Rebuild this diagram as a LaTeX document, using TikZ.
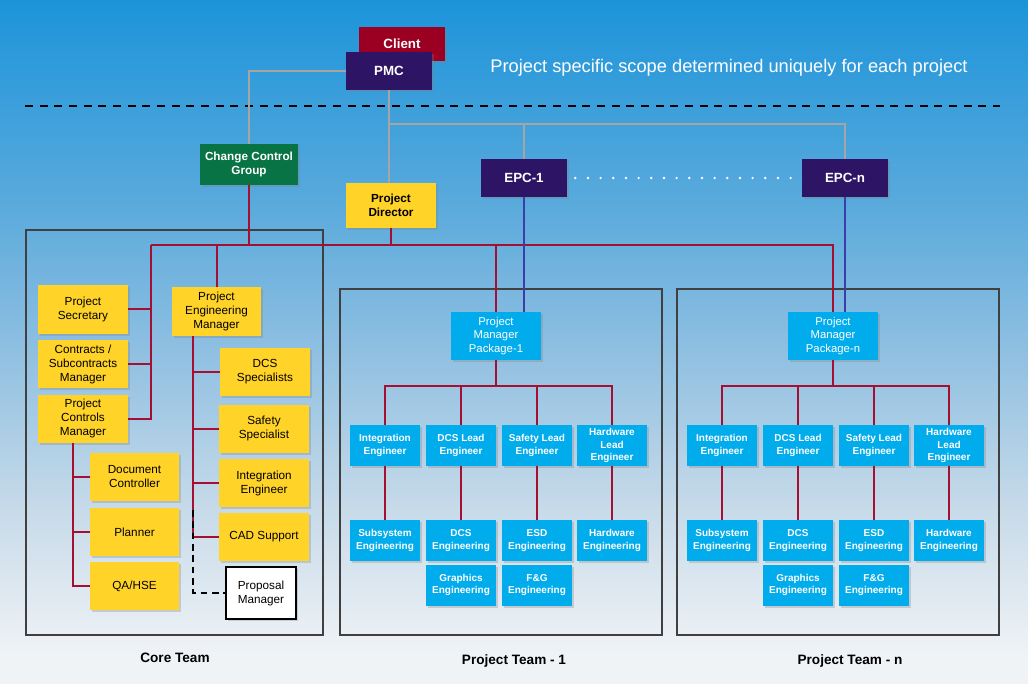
\documentclass[tikz,border=0pt]{standalone}
\usepackage{fontspec}
\setmainfont{Liberation Sans}
\usepackage{tikz}
\usetikzlibrary{shadows}
\usetikzlibrary{positioning}
\usetikzlibrary{calc}
\usepackage{xcolor}
\definecolor{boxyellow}{RGB}{255,211,40}
\definecolor{boxcyan}{RGB}{0,172,236}
\definecolor{boxpurple}{RGB}{45,20,100}
\definecolor{boxred}{RGB}{155,0,34}
\definecolor{boxgreen}{RGB}{8,115,68}
\definecolor{linered}{RGB}{165,15,50}
\definecolor{lineblue}{RGB}{60,60,170}
\definecolor{linegray}{RGB}{165,165,165}
\definecolor{bgtop}{RGB}{28,148,218}
\definecolor{bghigh}{RGB}{90,170,220}
\definecolor{bgmid}{RGB}{140,190,225}
\definecolor{bgpale}{RGB}{198,218,233}
\definecolor{bgbot}{RGB}{240,243,246}
\pgfdeclareverticalshading{skybg}{100bp}{color(0bp)=(bgbot); color(27bp)=(bgbot);
  color(38bp)=(bgpale); color(50bp)=(bgmid); color(60bp)=(bghigh); color(75bp)=(bgtop); color(100bp)=(bgtop)}

\begin{document}
\begin{tikzpicture}[
    x=0.75pt, y=-0.75pt,
    orgbox/.style={rectangle, draw=none, inner sep=1pt, align=center,
               drop shadow={opacity=0.3, shadow xshift=1.5pt, shadow yshift=-1.5pt}},
    topbox/.style={orgbox, text=white, minimum width=64.5pt, minimum height=28.5pt,
               font=\fontsize{10}{12}\selectfont\bfseries},
    corebox/.style={orgbox, fill=boxyellow, minimum width=67pt, minimum height=36pt,
               font=\fontsize{8.8}{10.5}\selectfont},
    pmbox/.style={orgbox, fill=boxcyan, text=white, minimum width=67.5pt, minimum height=36pt,
               font=\fontsize{8.5}{10.4}\selectfont},
    engbox/.style={orgbox, fill=boxcyan, text=white, minimum width=52.5pt, minimum height=30.75pt,
               font=\fontsize{7.5}{9.2}\selectfont\bfseries},
    redline/.style={draw=linered, line width=1.5pt},
    blueline/.style={draw=lineblue, line width=1.5pt},
    grayline/.style={draw=linegray, line width=1.5pt},
    dashline/.style={draw=black, line width=1.3pt, dash pattern=on 5pt off 3.5pt},
    teamframe/.style={draw=black!75, line width=0.8pt},
    teamlabel/.style={font=\fontsize{10.2}{12}\selectfont\bfseries}
]

% Background
\shade[shading=skybg] (0,0) rectangle (1028,684);
\useasboundingbox (0,0) rectangle (1028,684);

% Team Frames
\draw[teamframe] (26,230) rectangle (323,635);
\draw[teamframe] (340,289) rectangle (662,635);
\draw[teamframe] (677,289) rectangle (999,635);

% Top Level
\node[topbox, fill=boxred, minimum height=26pt] (client) at (402,44) {Client};
\node[topbox, fill=boxpurple] (pmc) at (389,71) {PMC};
\node[font=\fontsize{13.7}{16}\selectfont, text=white] (scope) at (729,68)
     {Project specific scope determined uniquely for each project};
\coordinate (divL) at (25,106);
\coordinate (divR) at (1000,106);
\draw[dashline, line width=1.6pt, dash pattern=on 6pt off 5pt] (divL) -- (divR);

\node[orgbox, fill=boxgreen, text=white, minimum width=73.5pt, minimum height=30.75pt,
      font=\fontsize{8.8}{10.3}\selectfont\bfseries] (ccg) at (249,164.5) {Change Control\\Group};
\node[orgbox, fill=boxyellow, minimum width=67.5pt, minimum height=33.75pt,
      font=\fontsize{8.8}{10.3}\selectfont\bfseries] (director) at (391,205.5) {Project\\Director};
\node[topbox, fill=boxpurple] (epc1) at (524,178) {EPC-1};
\node[topbox, fill=boxpurple] (epcn) at (845,178) {EPC-n};

% Core Team
\node[corebox] (secretary) at (83,309.5) {Project\\Secretary};
\node[corebox] (contracts) at (83,364) {Contracts /\\Subcontracts\\Manager};
\node[corebox] (ctrlmgr) at (83,418.5) {Project\\Controls\\Manager};
\node[corebox] (pem) at (216.5,311.5) {Project\\Engineering\\Manager};
\node[corebox] (dcsspec) at (265,372) {DCS\\Specialists};
\node[corebox] (safspec) at (264,428.5) {Safety\\Specialist};
\node[corebox] (intspec) at (264,483) {Integration\\Engineer};
\node[corebox] (cadsupport) at (264,537) {CAD Support};
\node[corebox] (doccontrol) at (134.5,477) {Document\\Controller};
\node[corebox] (planner) at (134.5,532) {Planner};
\node[corebox] (qahse) at (134.5,586) {QA/HSE};
\node[orgbox, fill=white, draw=black, line width=1pt, minimum width=52.5pt, minimum height=39pt,
      font=\fontsize{8.8}{10.5}\selectfont] (proposal) at (261,593) {Proposal\\Manager};

% Project Team 1
\node[pmbox] (pm1) at (496,336) {Project\\Manager\\Package-1};
\node[engbox] (int1) at (385,445.5) {Integration\\Engineer};
\node[engbox] (dcsl1) at (461,445.5) {DCS Lead\\Engineer};
\node[engbox] (safl1) at (537,445.5) {Safety Lead\\Engineer};
\node[engbox] (hwl1) at (612,445.5) {Hardware\\Lead\\Engineer};
\node[engbox] (sub1) at (385,540.5) {Subsystem\\Engineering};
\node[engbox] (dcse1) at (461,540.5) {DCS\\Engineering};
\node[engbox] (esd1) at (537,540.5) {ESD\\Engineering};
\node[engbox] (hwe1) at (612,540.5) {Hardware\\Engineering};
\node[engbox] (gfx1) at (461,585) {Graphics\\Engineering};
\node[engbox] (fg1) at (537,585) {F\&G\\Engineering};

% Project Team n
\node[pmbox] (pmn) at (833,336) {Project\\Manager\\Package-n};
\node[engbox] (intn) at (722,445.5) {Integration\\Engineer};
\node[engbox] (dcsln) at (798,445.5) {DCS Lead\\Engineer};
\node[engbox] (safln) at (874,445.5) {Safety Lead\\Engineer};
\node[engbox] (hwln) at (949,445.5) {Hardware\\Lead\\Engineer};
\node[engbox] (subn) at (722,540.5) {Subsystem\\Engineering};
\node[engbox] (dcsen) at (798,540.5) {DCS\\Engineering};
\node[engbox] (esdn) at (874,540.5) {ESD\\Engineering};
\node[engbox] (hwen) at (949,540.5) {Hardware\\Engineering};
\node[engbox] (gfxn) at (798,585) {Graphics\\Engineering};
\node[engbox] (fgn) at (874,585) {F\&G\\Engineering};

% Gray Lines
\coordinate (pmctee) at (389,124);
\draw[grayline] (pmc.west) -| (ccg.north);
\draw[grayline] (pmc.south) -- (pmc.south |- director.north);
\draw[grayline] (pmctee) -| (epcn.north);
\draw[grayline] (pmctee -| epc1.north) -- (epc1.north);
\draw[white, line width=2pt, line cap=round, dash pattern=on 0pt off 9.5pt,
      shorten <=6pt, shorten >=6pt] (epc1.east) -- (epcn.west);

% Red Lines
\coordinate (busL) at (151,245);
\coordinate (busR) at (833,245);
\draw[redline] (busL) -- (busR) -- (pmn.north);
\draw[redline] (ccg.south) -- (ccg.south |- busL);
\draw[redline] (director.south) -- (director.south |- busL);
\draw[redline] (pem.north) -- (pem.north |- busL);
\draw[redline] (pm1.north) -- (pm1.north |- busL);
\draw[redline] (busL) |- (ctrlmgr.east);
\draw[redline] (secretary.east) -- (secretary.east -| busL);
\draw[redline] (contracts.east) -- (contracts.east -| busL);

\coordinate (ctrlspine) at (73,443);
\draw[redline] (ctrlspine) |- (qahse.west);
\draw[redline] (doccontrol.west) -- (doccontrol.west -| ctrlspine);
\draw[redline] (planner.west) -- (planner.west -| ctrlspine);

\coordinate (pemspine) at (193,336);
\draw[redline] (pemspine) |- (cadsupport.west);
\draw[redline] (dcsspec.west) -- (dcsspec.west -| pemspine);
\draw[redline] (safspec.west) -- (safspec.west -| pemspine);
\draw[redline] (intspec.west) -- (intspec.west -| pemspine);
\draw[dashline] (193,510) |- (proposal.west);

\coordinate (bus1) at (496,386);
\draw[redline] (pm1.south) -- (bus1);
\draw[redline] (int1.north) |- (bus1) -| (hwl1.north);
\draw[redline] (dcsl1.north) -- (dcsl1.north |- bus1);
\draw[redline] (safl1.north) -- (safl1.north |- bus1);
\draw[redline] (int1.south) -- (sub1.north);
\draw[redline] (dcsl1.south) -- (dcse1.north);
\draw[redline] (safl1.south) -- (esd1.north);
\draw[redline] (hwl1.south) -- (hwe1.north);

\coordinate (busn) at (833,386);
\draw[redline] (pmn.south) -- (busn);
\draw[redline] (intn.north) |- (busn) -| (hwln.north);
\draw[redline] (dcsln.north) -- (dcsln.north |- busn);
\draw[redline] (safln.north) -- (safln.north |- busn);
\draw[redline] (intn.south) -- (subn.north);
\draw[redline] (dcsln.south) -- (dcsen.north);
\draw[redline] (safln.south) -- (esdn.north);
\draw[redline] (hwln.south) -- (hwen.north);

% Blue Lines
\draw[blueline] (epc1.south) -- (epc1.south |- pm1.north);
\draw[blueline] (epcn.south) -- (epcn.south |- pmn.north);

% Labels
\node[teamlabel] (corelabel) at (175,658) {Core Team};
\node[teamlabel] (team1label) at (514,661) {Project Team - 1};
\node[teamlabel] (teamnlabel) at (850,661) {Project Team - n};

\end{tikzpicture}
\end{document}
